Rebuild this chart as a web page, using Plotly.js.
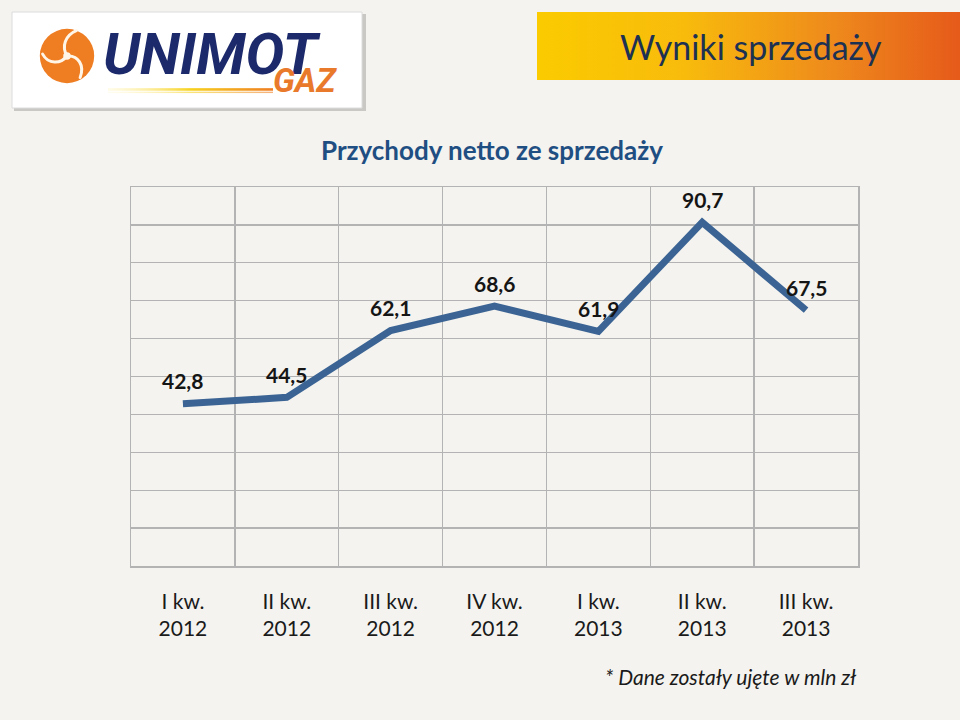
<!DOCTYPE html>
<html>
<head>
<meta charset="utf-8">
<script src="https://cdn.plot.ly/plotly-3.0.1.min.js"></script>
<style>
html,body{margin:0;padding:0;background:#f4f3ef;}
#chart{width:960px;height:720px;}
</style>
</head>
<body>
<div id="chart"></div>
<script>
// ---- data ----
const quarters = ["I kw.", "II kw.", "III kw.", "IV kw.", "I kw.", "II kw.", "III kw."];
const years = ["2012", "2012", "2012", "2012", "2013", "2013", "2013"];
const revenue = [42.8, 44.5, 62.1, 68.6, 61.9, 90.7, 67.5];
const chartTitle = "Przychody netto ze sprzedaży";
const bannerTitle = "Wyniki sprzedaży";
const footnote = "* Dane zostały ujęte w mln zł";

const categories = quarters.map((q, i) => q + "<br>" + years[i]);

// pixel -> paper helpers (margins are 0, paper == page)
const W = 960, H = 720;
const px = x => x / W;
const py = y => 1 - y / H;

const fmt = v => v.toFixed(1).replace(".", ",");

const trace = {
  type: "scatter",
  mode: "lines",
  x: categories,
  y: revenue,
  line: {color: "#3b6494", width: 7},
  hoverinfo: "skip",
  cliponaxis: false
};

const valueLabels = revenue.map((v, i) => ({
  x: categories[i], y: v, xref: "x", yref: "y",
  text: "<b>" + fmt(v) + "</b>",
  showarrow: false, yshift: 23,
  font: {family: "Lato, 'Open Sans', sans-serif", size: 21, color: "#151515"}
}));

const bannerSvg = 'data:image/svg+xml;utf8,' + encodeURIComponent(
  '<svg xmlns="http://www.w3.org/2000/svg" width="423" height="68" preserveAspectRatio="none">' +
  '<defs><linearGradient id="g" x1="0" y1="0" x2="1" y2="0">' +
  '<stop offset="0" stop-color="#fbcb00"/><stop offset="0.35" stop-color="#f8bb0c"/>' +
  '<stop offset="0.7" stop-color="#ee8a1c"/><stop offset="1" stop-color="#e65a1a"/>' +
  '</linearGradient></defs><rect width="423" height="68" fill="url(#g)"/></svg>');

const emblemSvg = 'data:image/svg+xml;utf8,' + encodeURIComponent(
  '<svg xmlns="http://www.w3.org/2000/svg" width="64" height="64" viewBox="-32 -32 64 64">' +
  '<circle r="29" fill="#ef7d22"/>' +
  '<g fill="none" stroke="#fff6e8" stroke-width="3.2" stroke-linecap="round">' +
  '<path d="M0,0 C-6,-10 -2,-22 10,-27"/>' +
  '<path d="M0,0 C12,-1 19,10 14,23"/>' +
  '<path d="M0,0 C-7,9 -20,9 -26,-2"/>' +
  '</g><circle r="4" fill="#fff6e8"/></svg>');

const streakSvg = 'data:image/svg+xml;utf8,' + encodeURIComponent(
  '<svg xmlns="http://www.w3.org/2000/svg" width="170" height="6" preserveAspectRatio="none">' +
  '<defs><linearGradient id="s" x1="0" y1="0" x2="1" y2="0">' +
  '<stop offset="0" stop-color="#fff3b0" stop-opacity="0.3"/><stop offset="0.5" stop-color="#f7d21e"/>' +
  '<stop offset="1" stop-color="#ef7d22"/></linearGradient></defs>' +
  '<rect y="1" width="170" height="2.2" fill="url(#s)"/><rect y="4" width="170" height="1.2" fill="url(#s)" opacity="0.6"/></svg>');

const layout = {
  width: W, height: H,
  margin: {l: 0, r: 0, t: 0, b: 0, pad: 0},
  paper_bgcolor: "#f4f3ef",
  plot_bgcolor: "#f4f3ef",
  showlegend: false,
  font: {family: "Lato, 'Open Sans', sans-serif", color: "#1a1a1a"},
  xaxis: {
    type: "category",
    domain: [px(131), px(858)],
    range: [-0.5, categories.length - 0.5],
    tickson: "boundaries",
    showgrid: true, gridcolor: "#b3b3b3", gridwidth: 1.3,
    showline: true, linecolor: "#b3b3b3", linewidth: 1.5, mirror: true,
    ticks: "", ticklabelstandoff: 16,
    tickfont: {family: "Lato, 'Open Sans', sans-serif", size: 21, color: "#1a1a1a"},
    zeroline: false, fixedrange: true, automargin: false
  },
  yaxis: {
    domain: [py(566), py(187)],
    range: [0, 100], tick0: 0, dtick: 10,
    showticklabels: false, ticks: "",
    showgrid: true, gridcolor: "#b3b3b3", gridwidth: 1.3,
    showline: true, linecolor: "#b3b3b3", linewidth: 1.5, mirror: true,
    zeroline: false, fixedrange: true, automargin: false
  },
  images: [
    {source: bannerSvg, xref: "paper", yref: "paper", x: px(537), y: py(12),
     sizex: px(960) - px(537), sizey: 68 / H, sizing: "stretch", xanchor: "left", yanchor: "top", layer: "below"},
    {source: emblemSvg, xref: "paper", yref: "paper", x: px(37), y: py(26),
     sizex: 60 / W, sizey: 60 / H, sizing: "stretch", xanchor: "left", yanchor: "top", layer: "above"},
    {source: streakSvg, xref: "paper", yref: "paper", x: px(108), y: py(87),
     sizex: 165 / W, sizey: 7 / H, sizing: "stretch", xanchor: "left", yanchor: "top", layer: "above"}
  ],
  shapes: [
    {type: "rect", xref: "paper", yref: "paper", x0: px(14), x1: px(366), y0: py(14), y1: py(111),
     fillcolor: "#c9c8c4", line: {width: 0}, layer: "below"},
    {type: "rect", xref: "paper", yref: "paper", x0: px(12), x1: px(362), y0: py(12), y1: py(108),
     fillcolor: "#ffffff", line: {color: "#dcdcdc", width: 1}, layer: "below"}
  ],
  annotations: [
    {text: "<b><i>UNIMOT</i></b>", xref: "paper", yref: "paper", x: px(211), y: py(54),
     xanchor: "center", yanchor: "middle", showarrow: false,
     font: {family: "Roboto, 'Liberation Sans', sans-serif", size: 58, color: "#1c2a6b", weight: 900}},
    {text: "<b><i>GAZ</i></b>", xref: "paper", yref: "paper", x: px(305), y: py(80),
     xanchor: "center", yanchor: "middle", showarrow: false,
     font: {family: "Roboto, 'Liberation Sans', sans-serif", size: 33, color: "#e97a2c", weight: 900}},
    {text: bannerTitle, xref: "paper", yref: "paper", x: px(751), y: py(47),
     xanchor: "center", yanchor: "middle", showarrow: false,
     font: {family: "Lato, 'Open Sans', sans-serif", size: 34, color: "#1d3153"}},
    {text: "<b>" + chartTitle + "</b>", xref: "paper", yref: "paper", x: px(492), y: py(150),
     xanchor: "center", yanchor: "middle", showarrow: false,
     font: {family: "Lato, 'Open Sans', sans-serif", size: 26, color: "#1f4e82"}},
    {text: "<i>" + footnote + "</i>", xref: "paper", yref: "paper", x: px(731), y: py(676),
     xanchor: "center", yanchor: "middle", showarrow: false,
     font: {family: "Lato, 'Open Sans', sans-serif", size: 21, color: "#1a1a1a"}}
  ].concat(valueLabels)
};

Plotly.newPlot("chart", [trace], layout, {staticPlot: true, displayModeBar: false});
</script>
</body>
</html>
